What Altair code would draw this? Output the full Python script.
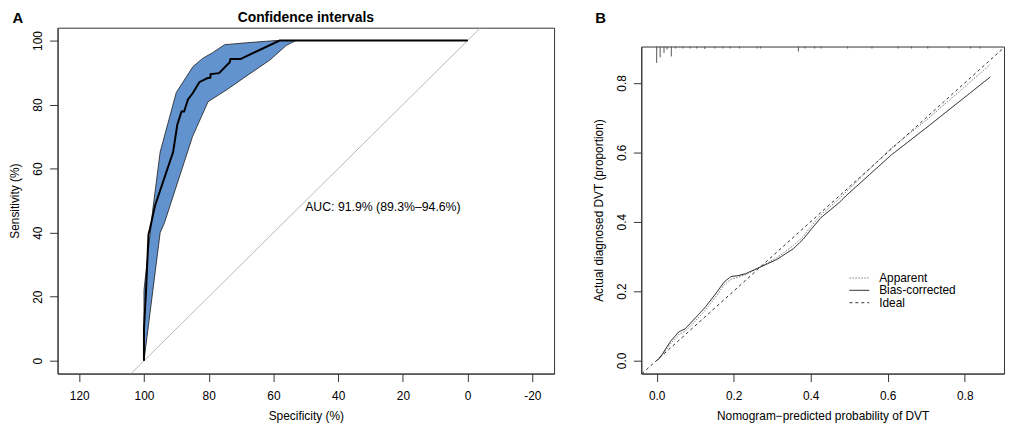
import altair as alt
import pandas as pd

# ---------------- Panel A: ROC with confidence band ----------------
roc_spec = [100, 100, 99.4, 98.6, 98.2, 96.6, 91.0, 89.7, 88.4, 87.6, 86.4, 84.9, 82.9,
            80.5, 79.5, 79.4, 76.8, 73.5, 73.3, 70.2, 58.1, 0]
roc_sens = [0, 10, 21, 39.5, 41, 48.4, 65.2, 73.7, 77.8, 77.8, 81.6, 83.6, 87.0,
            88.2, 88.4, 89.5, 89.8, 93.2, 94.2, 94.2, 100, 100]
up_spec = [100, 100, 97.3, 95.0, 90.0, 84.9, 81.9, 78.8, 75.1, 68.2, 59.1, 0]
up_sens = [0, 22, 47, 65.2, 83.8, 91.8, 94.4, 96.2, 98.7, 99.3, 100, 100]
lo_spec = [100, 95.0, 93.7, 85.0, 80.2, 74.3, 69.2, 61.1, 56.0, 53.0, 0]
lo_sens = [0, 40, 43, 70, 80.9, 84.7, 88.3, 93.9, 98.5, 100, 100]
chance_spec = [110, -10]
chance_sens = [-10, 110]
auc_label = ["AUC: 91.9% (89.3%\u201394.6%)"]
auc_pos = [50.2, 48]

# ---------------- Panel B: calibration ----------------
pred = [0.0015, 0.014, 0.036, 0.057, 0.074, 0.100, 0.125, 0.151, 0.176, 0.193, 0.210,
        0.231, 0.261, 0.312, 0.355, 0.381, 0.402, 0.427, 0.474, 0.491, 0.610, 0.704, 0.866]
bias_corrected = [0.0, 0.017, 0.055, 0.082, 0.091, 0.122, 0.152, 0.189, 0.227, 0.242, 0.244,
                  0.250, 0.265, 0.291, 0.322, 0.350, 0.379, 0.412, 0.455, 0.474, 0.593, 0.674, 0.817]
apparent = [0.0, 0.014, 0.048, 0.074, 0.084, 0.113, 0.143, 0.180, 0.219, 0.234, 0.239,
            0.247, 0.265, 0.296, 0.331, 0.358, 0.388, 0.420, 0.466, 0.485, 0.613, 0.696, 0.853]
ideal = [-0.05, 0.95]
rug_x = [0.0, 0.009, 0.019, 0.027, 0.038, 0.049, 0.068, 0.087, 0.104, 0.125, 0.151, 0.172,
         0.191, 0.215, 0.261, 0.270, 0.368, 0.385, 0.410, 0.427, 0.496, 0.559, 0.627,
         0.662, 0.704, 0.759, 0.815, 0.840]
rug_n = [33, 22, 13, 6, 20, 4, 4, 4, 4, 5, 4, 4, 4, 4, 4, 4, 10, 4, 4, 4, 4, 4, 4, 4, 4, 4, 4, 4]
series_names = ["Apparent", "Bias-corrected", "Ideal"]
series_colors = ["#7a7a7a", "#111111", "#333333"]
series_dash = [[1.5, 1.5], [1, 0], [3, 3]]

FONT = "Liberation Sans"
AW, AH = 501, 349
BW, BH = 366, 330
HA, HB = 12, 34
XA = [126.7, -26.7]
YA = [-4, 104]
XB = [-0.04, 0.902]
YB = [-0.038, 0.905]
NOSTROKE = alt.ViewBackground(stroke="transparent")

# ----- panel A -----
band_rows = [{"i": k, "spec": s, "sens": v} for k, (s, v) in enumerate(zip(up_spec, up_sens))]
n0 = len(band_rows)
for k, (s, v) in enumerate(zip(reversed(lo_spec), reversed(lo_sens))):
    band_rows.append({"i": n0 + k, "spec": s, "sens": v})
band_df = pd.DataFrame(band_rows)
roc_df = pd.DataFrame({"i": range(len(roc_spec)), "spec": roc_spec, "sens": roc_sens})
chance_df = pd.DataFrame({"spec": chance_spec, "sens": chance_sens})
auc_df = pd.DataFrame({"spec": [auc_pos[0]], "sens": [auc_pos[1]], "t": auc_label})

xA = alt.X("spec:Q", scale=alt.Scale(domain=XA, nice=False, zero=False),
           axis=alt.Axis(title="Specificity (%)", values=[120, 100, 80, 60, 40, 20, 0, -20],
                         labelExpr="'' + datum.value"))
yA = alt.Y("sens:Q", scale=alt.Scale(domain=YA, nice=False, zero=False),
           axis=alt.Axis(title="Sensitivity (%)", values=[0, 20, 40, 60, 80, 100],
                         labelAngle=270, labelAlign="center", labelBaseline="bottom"))

chance = alt.Chart(chance_df).mark_line(color="#b8b8b8", strokeWidth=1, clip=True).encode(x=xA, y=yA)
band = alt.Chart(band_df).mark_line(fill="#6393cf", stroke="#1a1a1a", strokeWidth=0.8).encode(
    x=xA, y=yA, order="i:Q")
roc = alt.Chart(roc_df).mark_line(color="black", strokeWidth=2).encode(x=xA, y=yA, order="i:Q")
auc = alt.Chart(auc_df).mark_text(align="left", fontSize=12.4, font=FONT, color="black").encode(
    x=xA, y=yA, text="t:N")
mainA = alt.layer(chance, band, roc, auc).properties(width=AW, height=AH)

headA_letter = alt.Chart(pd.DataFrame({"t": ["A"]})).mark_text(
    fontSize=15, fontWeight="bold", font=FONT, color="black", baseline="top").encode(
    text="t:N", x=alt.value(-40), y=alt.value(0))
headA_title = alt.Chart(pd.DataFrame({"t": ["Confidence intervals"]})).mark_text(
    fontSize=14, fontWeight="bold", font=FONT, color="black", baseline="top").encode(
    text="t:N", x=alt.value(AW / 2), y=alt.value(0))
headA = alt.layer(headA_letter, headA_title).properties(width=AW, height=HA, view=NOSTROKE)
colA = alt.vconcat(headA, mainA, spacing=0)

# ----- panel B -----
rows = []
for name, ys, xs in [("Apparent", apparent, pred), ("Bias-corrected", bias_corrected, pred),
                     ("Ideal", ideal, ideal)]:
    for k, (xv, yv) in enumerate(zip(xs, ys)):
        rows.append({"series": name, "i": k, "pred": xv, "obs": yv})
cal_df = pd.DataFrame(rows)
rug_df = pd.DataFrame({"pred": rug_x, "n": rug_n})

xB = alt.X("pred:Q", scale=alt.Scale(domain=XB, nice=False, zero=False),
           axis=alt.Axis(title="Nomogram\u2212predicted probability of DVT",
                         values=[0, 0.2, 0.4, 0.6, 0.8], format=".1f"))
yB = alt.Y("obs:Q", scale=alt.Scale(domain=YB, nice=False, zero=False),
           axis=alt.Axis(title="Actual diagnosed DVT (proportion)", values=[0, 0.2, 0.4, 0.6, 0.8],
                         format=".1f", labelAngle=270, labelAlign="center", labelBaseline="bottom"))

cal = alt.Chart(cal_df).mark_line(clip=True, strokeWidth=1).encode(
    x=xB, y=yB, order="i:Q",
    color=alt.Color("series:N", scale=alt.Scale(domain=series_names, range=series_colors),
                    legend=None),
    strokeDash=alt.StrokeDash("series:N", scale=alt.Scale(domain=series_names, range=series_dash),
                              legend=None),
)
rug = alt.Chart(rug_df).transform_calculate(
    obs=str(YB[1]), obs_end=f"{YB[1]} - datum.n * 0.00143"
).mark_rule(color="#555555", strokeWidth=1).encode(x=xB, y=yB, y2="obs_end:Q")

legend_layers = []
for k, name in enumerate(series_names):
    ly = 233.5 + 12.5 * k
    ldf = pd.DataFrame({"series": [name]})
    legend_layers.append(alt.Chart(ldf).mark_rule(
        color=series_colors[k], strokeDash=series_dash[k], strokeWidth=1).encode(
        x=alt.value(210), x2=alt.value(230), y=alt.value(ly)))
    legend_layers.append(alt.Chart(ldf).mark_text(
        align="left", baseline="middle", fontSize=12, font=FONT, color="black").encode(
        text="series:N", x=alt.value(240), y=alt.value(ly)))

mainB = alt.layer(cal, rug, *legend_layers).properties(width=BW, height=BH)

headB = alt.Chart(pd.DataFrame({"t": ["B"]})).mark_text(
    fontSize=15, fontWeight="bold", font=FONT, color="black", baseline="top").encode(
    text="t:N", x=alt.value(-41), y=alt.value(0)).properties(width=BW, height=HB, view=NOSTROKE)
colB = alt.vconcat(headB, mainB, spacing=0)

chart = alt.hconcat(colA, colB, spacing=37).properties(padding=0).configure(font=FONT).configure_view(
    stroke="#333333", strokeWidth=1
).configure_axis(
    grid=False, domainColor="#333333", tickColor="#333333", tickSize=8,
    labelFontSize=12, labelColor="black", labelFont=FONT,
    titleFontSize=12, titleFontWeight="normal", titleColor="black", titleFont=FONT,
    titlePadding=9
).configure_axisX(labelPadding=9).configure_axisY(labelPadding=5, titlePadding=10)

chart.save("out.html", embed_options={"renderer": "svg", "actions": False})
